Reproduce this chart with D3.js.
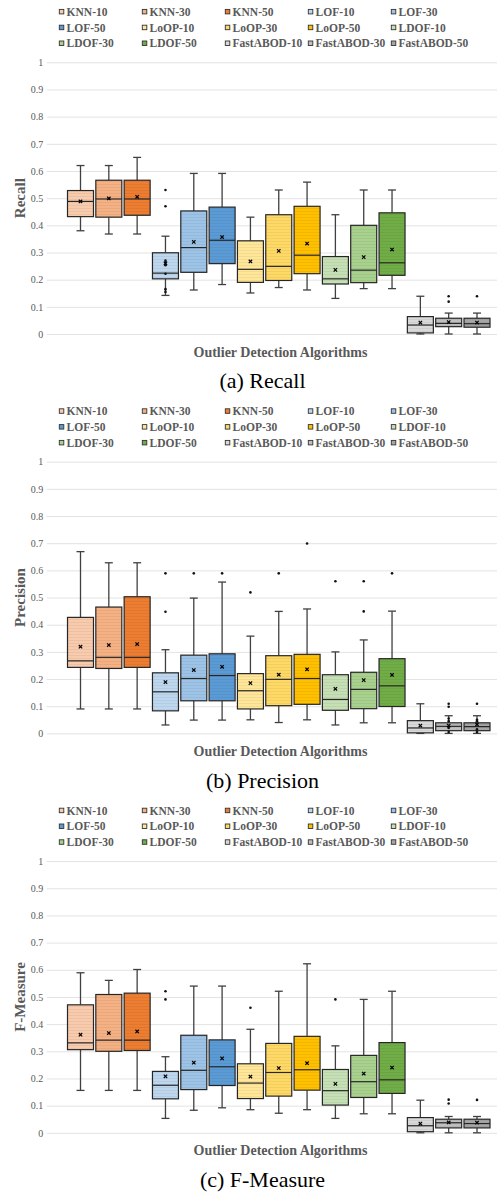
<!DOCTYPE html>
<html><head><meta charset="utf-8">
<script src="https://cdn.jsdelivr.net/npm/d3@7"></script>
<style>body{margin:0;background:#fff} svg{display:block}</style>
</head><body><svg id="c" width="497" height="1193"></svg>
<script>
const algorithms = ["KNN-10","KNN-30","KNN-50","LOF-10","LOF-30","LOF-50","LoOP-10","LoOP-30","LoOP-50","LDOF-10","LDOF-30","LDOF-50","FastABOD-10","FastABOD-30","FastABOD-50"];
const seriesColors = ["#F8CBAD","#F4B183","#ED7D31","#BDD7EE","#9DC3E6","#5B9BD5","#FFE699","#FFD966","#FFC000","#C5E0B4","#A9D18E","#70AD47","#D9D9D9","#BFBFBF","#A6A6A6"];
const yTicks = [0,0.1,0.2,0.3,0.4,0.5,0.6,0.7,0.8,0.9,1];
const xAxisTitle = "Outlier Detection Algorithms";

// Recall
const recallMin    = [0.38,0.368,0.368,0.142,0.162,0.182,0.151,0.171,0.162,0.131,0.167,0.167,0,0,0];
const recallQ1     = [0.432,0.43,0.437,0.203,0.227,0.259,0.19,0.197,0.222,0.184,0.189,0.216,0.004,0.027,0.025];
const recallMedian = [0.488,0.497,0.497,0.224,0.318,0.345,0.238,0.249,0.29,0.203,0.235,0.262,0.033,0.039,0.038];
const recallQ3     = [0.528,0.566,0.566,0.299,0.453,0.467,0.343,0.439,0.47,0.285,0.40,0.446,0.064,0.058,0.058];
const recallMax    = [0.62,0.62,0.65,0.36,0.591,0.591,0.43,0.53,0.559,0.439,0.53,0.53,0.139,0.077,0.077];
const recallMean   = [0.488,0.499,0.505,0.26,0.339,0.357,0.267,0.306,0.333,0.236,0.283,0.311,0.042,0.044,0.042];
const recallPoints = [[],[],[],[0.53,0.47,0.27,0.262,0.253,0.222,0.165,0.155],[],[],[],[],[],[],[],[],[],[0.139,0.119],[0.139]];

// Precision
const precisionMin    = [0.09,0.09,0.09,0.031,0.049,0.049,0.05,0.04,0.05,0.031,0.039,0.039,0,0,0];
const precisionQ1     = [0.243,0.239,0.243,0.083,0.12,0.12,0.09,0.102,0.107,0.085,0.091,0.099,0.002,0.01,0.01];
const precisionMedian = [0.267,0.28,0.28,0.153,0.202,0.213,0.157,0.199,0.202,0.125,0.162,0.175,0.02,0.026,0.025];
const precisionQ3     = [0.427,0.465,0.503,0.223,0.288,0.293,0.22,0.286,0.291,0.216,0.225,0.275,0.047,0.039,0.039];
const precisionMax    = [0.669,0.628,0.628,0.308,0.498,0.557,0.358,0.449,0.458,0.30,0.344,0.45,0.109,0.065,0.065];
const precisionMean   = [0.319,0.325,0.329,0.189,0.233,0.245,0.185,0.216,0.236,0.164,0.196,0.215,0.029,0.029,0.033];
const precisionPoints = [[],[],[],[0.589,0.448],[0.589],[0.589],[0.519],[0.589],[0.699],[0.56],[0.56,0.449],[0.589],[],[0.109,0.098,0.055,0.045,0.02,0.005],[0.109,0.05,0.045,0.015,0.005]];

// F-Measure
const fmeasureMin    = [0.156,0.156,0.156,0.053,0.083,0.092,0.085,0.072,0.085,0.053,0.07,0.07,0,0,0];
const fmeasureQ1     = [0.306,0.30,0.303,0.125,0.159,0.174,0.126,0.135,0.157,0.102,0.13,0.145,0.004,0.018,0.018];
const fmeasureMedian = [0.331,0.341,0.341,0.175,0.23,0.243,0.183,0.222,0.232,0.155,0.188,0.195,0.026,0.037,0.034];
const fmeasureQ3     = [0.471,0.509,0.514,0.226,0.359,0.342,0.254,0.329,0.355,0.233,0.285,0.332,0.056,0.05,0.05];
const fmeasureMax    = [0.589,0.561,0.601,0.28,0.54,0.54,0.381,0.521,0.622,0.32,0.491,0.521,0.12,0.06,0.06];
const fmeasureMean   = [0.361,0.367,0.373,0.208,0.258,0.274,0.207,0.238,0.256,0.18,0.218,0.24,0.034,0.038,0.037];
const fmeasurePoints = [[],[],[],[0.521,0.491],[],[],[0.46],[],[],[0.491],[],[],[],[0.122,0.108],[0.121]];

const panels = [
  {title:"Recall", caption:"(a) Recall", min:recallMin, q1:recallQ1, med:recallMedian, q3:recallQ3, max:recallMax, mean:recallMean, pts:recallPoints},
  {title:"Precision", caption:"(b) Precision", min:precisionMin, q1:precisionQ1, med:precisionMedian, q3:precisionQ3, max:precisionMax, mean:precisionMean, pts:precisionPoints},
  {title:"F-Measure", caption:"(c) F-Measure", min:fmeasureMin, q1:fmeasureQ1, med:fmeasureMedian, q3:fmeasureQ3, max:fmeasureMax, mean:fmeasureMean, pts:fmeasurePoints}
];

const svg = d3.select("#c");
const serif = "'Liberation Serif','Times New Roman',serif";
const defs = svg.append("defs");
seriesColors.forEach((c,i)=>{
  const p = defs.append("pattern").attr("id","pat"+i).attr("patternUnits","userSpaceOnUse")
    .attr("width",4).attr("height",3);
  p.append("rect").attr("width",4).attr("height",3).attr("fill",c);
  p.append("path").attr("d","M0,2 L1,1 L2,2 L3,1 L4,2").attr("fill","none")
    .attr("stroke", d3.color(c).darker(0.7)).attr("stroke-opacity",0.4).attr("stroke-width",0.6);
});

const x = d3.scaleBand().domain(algorithms).range([67.5,490]).paddingInner(0.082).paddingOuter(0);
const bw = x.bandwidth();

panels.forEach((P,pi)=>{
  const off = pi*399.4;
  const g = svg.append("g");
  const y = d3.scaleLinear().domain([0,1]).range([334+off, 62.3+off]);

  // legend
  const leg = g.append("g");
  algorithms.forEach((a,i)=>{
    const col = i%5, row = Math.floor(i/5);
    const lx = 59.3 + col*83, ly = 11.7 + row*15.8 + off;
    leg.append("rect").attr("x",lx).attr("y",ly-2.3).attr("width",4.5).attr("height",4.5)
      .attr("fill",seriesColors[i]).attr("stroke","#333").attr("stroke-width",0.9);
    leg.append("text").attr("x",lx+7.3).attr("y",ly).attr("dy","0.35em")
      .attr("font-family",serif).attr("font-weight","bold").attr("font-size",11.5)
      .attr("fill","#595959").text(a);
  });

  // grid + y axis
  const ax = g.append("g").attr("transform","translate(46.7,0)")
    .call(d3.axisLeft(y).tickValues(yTicks).tickSize(-450.3).tickFormat(d=>d3.format("")(d)));
  ax.select(".domain").remove();
  ax.selectAll(".tick line").attr("stroke","#e3e3e3").attr("stroke-width",1);
  ax.selectAll(".tick text").attr("x",-3.5).attr("font-family",serif).attr("font-size",10).attr("fill","#595959");

  // boxes
  algorithms.forEach((a,i)=>{
    const cx = x(a) + bw/2;
    const bg = g.append("g");
    const wc = "#404040";
    bg.append("line").attr("x1",cx).attr("x2",cx).attr("y1",y(P.max[i])).attr("y2",y(P.q3[i])).attr("stroke",wc).attr("stroke-width",1.3);
    bg.append("line").attr("x1",cx).attr("x2",cx).attr("y1",y(P.q1[i])).attr("y2",y(P.min[i])).attr("stroke",wc).attr("stroke-width",1.3);
    [P.max[i],P.min[i]].forEach(v=>{
      bg.append("line").attr("x1",cx-4).attr("x2",cx+4).attr("y1",y(v)).attr("y2",y(v)).attr("stroke",wc).attr("stroke-width",1.3);
    });
    bg.append("rect").attr("x",x(a)).attr("width",bw).attr("y",y(P.q3[i])).attr("height",Math.max(0.5,y(P.q1[i])-y(P.q3[i])))
      .attr("fill","url(#pat"+i+")").attr("stroke","#262626").attr("stroke-width",1.2);
    bg.append("line").attr("x1",x(a)).attr("x2",x(a)+bw).attr("y1",y(P.med[i])).attr("y2",y(P.med[i])).attr("stroke","#262626").attr("stroke-width",1.2);
    P.pts[i].forEach(v=>{
      bg.append("circle").attr("cx",cx).attr("cy",y(v)).attr("r",1.3).attr("fill","#111");
    });
    const my = y(P.mean[i]), s=1.7;
    bg.append("path").attr("d",`M${cx-s},${my-s}L${cx+s},${my+s}M${cx-s},${my+s}L${cx+s},${my-s}`)
      .attr("stroke","#000").attr("stroke-width",1.2);
  });

  // axis titles
  g.append("text").attr("transform",`translate(20,${(y(0)+y(1))/2}) rotate(-90)`).attr("text-anchor","middle")
    .attr("dy","0.35em").attr("font-family",serif).attr("font-weight","bold").attr("font-size",15).attr("fill","#595959").text(P.title);
  g.append("text").attr("x",280.5).attr("y",351.7+off).attr("dy","0.35em").attr("text-anchor","middle")
    .attr("font-family",serif).attr("font-weight","bold").attr("font-size",14).attr("fill","#595959").text(xAxisTitle);
  g.append("text").attr("x",262.5).attr("y",388.3+off).attr("text-anchor","middle")
    .attr("font-family",serif).attr("font-size",22).attr("fill","#000").text(P.caption);
});
</script></body></html>
